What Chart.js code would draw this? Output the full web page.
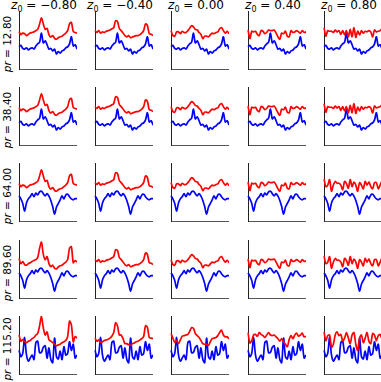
<!DOCTYPE html>
<html>
<head>
<meta charset="utf-8">
<script src="https://cdn.jsdelivr.net/npm/chart.js@4.4.0/dist/chart.umd.min.js"></script>
<style>
  body { margin: 0; background: #fff; width: 381px; height: 382px; position: relative; overflow: hidden; font-family: "DejaVu Sans", sans-serif; color: #000; }
  canvas { position: absolute; }
  .col-title { position: absolute; top: -2px; width: 76px; text-align: center; font-size: 12px; white-space: nowrap; }
  .row-title { position: absolute; width: 64px; text-align: center; font-size: 10.5px; white-space: nowrap; transform: rotate(-90deg); }
</style>
</head>
<body>
<script>
// column / row labels
const z0Labels = ['\u22120.80', '\u22120.40', '0.00', '0.40', '0.80'];
const prLabels = ['12.80', '38.40', '64.00', '89.60', '115.20'];

// red series, rows pr=12.80 / 38.40 (and reused below where they look the same)
const redA1 = [122,112,117,115,109,113,117,119,121,125,129,147,167,147,129,132,112,104,109,100,97,102,105,107,112,117,125,147,152,122,119,117];
const redA2 = [125,119,125,117,121,119,123,125,127,131,135,157,155,132,125,117,109,105,109,102,104,107,109,109,112,117,125,147,142,115,113,109];
const redA3 = [125,109,107,121,121,115,123,119,119,125,133,141,137,129,127,119,113,99,107,107,105,111,117,115,119,121,131,135,125,117,123,115];
const redA4 = [127,99,123,121,123,113,109,125,123,115,119,127,125,125,127,117,105,97,117,115,123,107,105,125,119,121,125,121,117,125,119,121];
const redA5 = [135,107,125,123,123,119,127,121,125,113,125,111,125,105,129,105,135,103,123,111,125,117,123,121,125,121,105,127,121,123,125,131];
// red series, rows pr=64.00 / 89.60
const redB5 = [137,112,117,135,97,117,129,123,123,117,102,129,122,107,135,112,127,117,97,125,117,105,129,117,127,112,105,125,125,105,117,131];
const redD1 = [129,112,119,109,107,112,115,119,122,125,132,162,182,142,125,135,112,102,107,97,95,101,105,107,112,117,125,162,167,115,122,117];
// red series, row pr=115.20
const redC1 = [127,107,112,105,102,107,109,115,119,127,132,157,187,150,127,137,112,107,102,97,92,95,97,102,105,109,122,172,160,105,122,117];
const redC2 = [117,107,111,103,105,109,111,113,117,123,135,167,157,127,127,115,99,99,95,93,99,101,105,107,111,115,122,157,152,119,117,115];
const redC3 = [132,117,103,109,99,111,123,125,127,129,139,151,149,132,125,119,109,99,97,97,93,105,115,117,119,125,135,143,127,121,121,115];
const redC4 = [135,101,109,127,129,123,135,129,125,119,127,135,127,125,127,121,115,107,115,105,97,89,112,125,115,127,133,123,127,133,121,123];
const redC5 = [137,109,125,127,87,97,127,137,125,129,107,117,135,117,99,127,135,97,77,117,127,102,117,135,107,99,132,127,109,125,129,113];

// blue series by row group
const blueA = [72,77,67,65,69,62,67,69,65,75,82,87,117,85,92,79,65,67,59,65,49,57,52,59,62,69,72,82,105,75,79,65];
const blueB = [82,72,57,32,59,72,79,89,79,91,85,95,97,89,82,89,81,67,47,22,45,57,69,82,72,85,87,79,72,69,73,73];
const blueC = [77,57,67,119,62,42,52,62,47,102,107,69,71,87,92,52,85,47,37,117,57,49,75,47,89,62,67,105,77,97,52,62];

const cols = [12, 88, 164, 241, 317];
const rows = [12, 88, 164, 241, 317];
const plotW = 64, plotH = 64;

const panels = [
  [[redA1, blueA], [redA2, blueA], [redA3, blueA], [redA4, blueA], [redA5, blueA]],
  [[redA1, blueA], [redA2, blueA], [redA3, blueA], [redA4, blueA], [redA5, blueA]],
  [[redA1, blueB], [redA2, blueB], [redA3, blueB], [redA4, blueB], [redB5, blueB]],
  [[redD1, blueB], [redA2, blueB], [redA3, blueB], [redA4, blueB], [redB5, blueB]],
  [[redC1, blueC], [redC2, blueC], [redC3, blueC], [redC4, blueC], [redC5, blueC]],
];

z0Labels.forEach((t, c) => {
  const d = document.createElement('div');
  d.className = 'col-title';
  d.style.left = (cols[c] + plotW / 2 - 38) + 'px';
  d.innerHTML = '<i>z</i><sub style="font-size:8px">0</sub> = ' + t;
  document.body.appendChild(d);
});

prLabels.forEach((t, r) => {
  const d = document.createElement('div');
  d.className = 'row-title';
  d.style.left = (7 - 32) + 'px';
  d.style.top = (rows[r] + plotH / 2 - 6) + 'px';
  d.innerHTML = '<i>pr</i> = ' + t;
  document.body.appendChild(d);
});

panels.forEach((row, r) => {
  row.forEach(([red, blue], c) => {
    const cv = document.createElement('canvas');
    cv.width = plotW + 2;
    cv.height = plotH + 2;
    cv.style.left = (cols[c] - 1) + 'px';
    cv.style.top = (rows[r] - 1) + 'px';
    document.body.appendChild(cv);

    new Chart(cv, {
      type: 'line',
      data: {
        labels: red.map((_, i) => i),
        datasets: [
          { data: red, borderColor: '#ff0000' },
          { data: blue, borderColor: '#0000ff' },
        ],
      },
      options: {
        responsive: false,
        animation: false,
        events: [],
        layout: { padding: 0 },
        plugins: { legend: { display: false }, tooltip: { enabled: false } },
        elements: { point: { radius: 0 }, line: { borderWidth: 1.7, tension: 0.3 } },
        scales: {
          x: {
            offset: false,
            grid: { display: false },
            ticks: { display: false },
            border: { display: true, color: '#555', width: 1 },
          },
          y: {
            min: 0,
            max: 189,
            grid: { display: false },
            ticks: { display: false },
            border: { display: true, color: '#222', width: 1 },
          },
        },
      },
    });
  });
});
</script>
</body>
</html>
